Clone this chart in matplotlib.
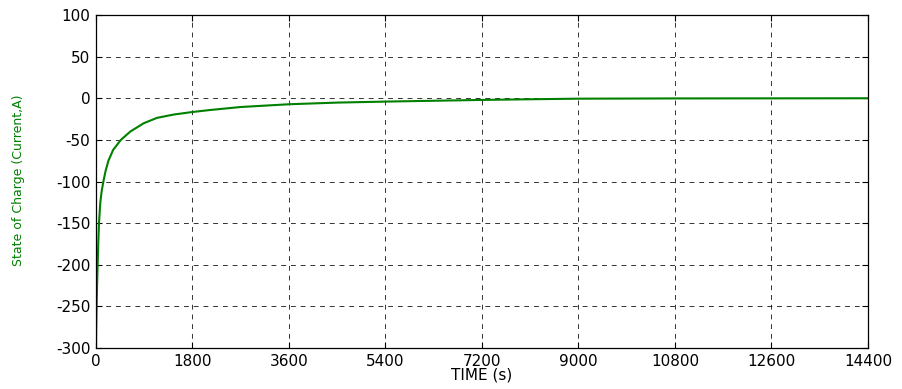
import matplotlib
matplotlib.use('Agg')
import matplotlib.pyplot as plt

# readings taken off the reference curve
time_s = [0, 5, 12, 20, 31, 42, 56, 81, 105, 138, 180, 232, 320, 464, 640, 890,
          1141, 1455, 1800, 2144, 2700, 3600, 4500, 5400, 6300, 7200, 8100, 9000,
          10800, 12600, 14400]
current = [-300, -275, -250, -225, -200, -175, -150, -125, -112, -100, -87, -75, -62, -50,
           -40, -30, -23.5, -19.5, -16.5, -14, -10.5, -7.2, -5.2, -4, -3, -2, -1.2, -0.5,
           -0.2, -0.1, 0]

x_ticks = [0, 1800, 3600, 5400, 7200, 9000, 10800, 12600, 14400]
y_ticks = [-300, -250, -200, -150, -100, -50, 0, 50, 100]

plt.rcParams['font.family'] = ['DejaVu Sans']
plt.rcParams['axes.unicode_minus'] = False

fig = plt.figure(figsize=(9.03, 3.89), dpi=100)
ax = fig.add_axes([0.1063, 0.1054, 0.8549, 0.856])

ax.plot(time_s, current, color='#008000', linewidth=1.5)

ax.set_xlim(0, 14400)
ax.set_ylim(-300, 100)
ax.set_xticks(x_ticks)
ax.set_yticks(y_ticks)
ax.tick_params(direction='in', length=4, width=0.8, top=True, right=True,
               labelsize=11, pad=4, colors='black')
ax.grid(True, color='black', linestyle=(0, (5, 5)), linewidth=0.7, alpha=0.8)

for s in ax.spines.values():
    s.set_linewidth(0.9)

ax.set_xlabel('TIME (s)', fontsize=11, labelpad=-1)
fig.text(0.02, 0.537, 'State of Charge (Current,A)', rotation=90, color='#008000',
         fontsize=9, ha='center', va='center')

fig.savefig('out.png', dpi=100)
